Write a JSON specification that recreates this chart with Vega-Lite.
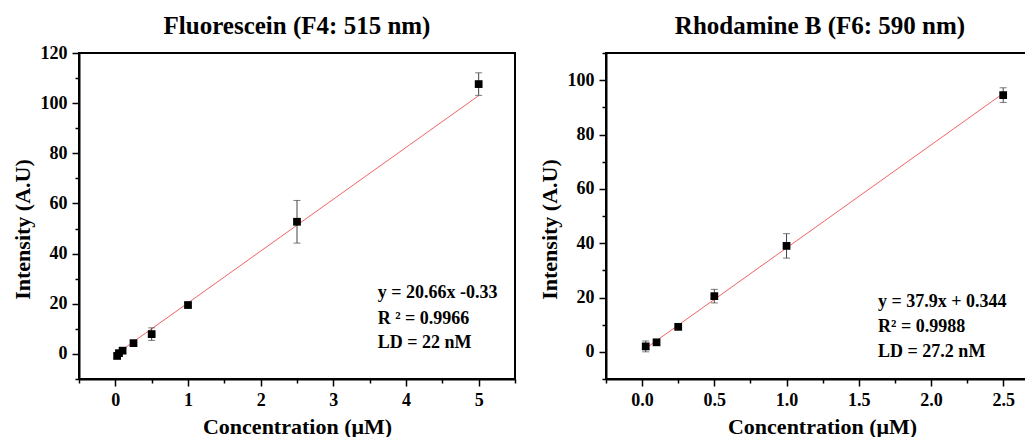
{
  "$schema": "https://vega.github.io/schema/vega-lite/v6.json",
  "padding": {"left": 10, "top": 13, "right": 0, "bottom": 0},
  "spacing": 20,
  "background": "white",
  "config": {
    "font": "Liberation Serif",
    "view": {"stroke": "black", "strokeWidth": 2},
    "axis": {
      "grid": false,
      "domainColor": "black",
      "domainWidth": 2,
      "tickColor": "black",
      "tickWidth": 1.5,
      "labelFont": "Liberation Serif",
      "labelFontWeight": "bold",
      "labelFontSize": 18,
      "labelColor": "black",
      "labelPadding": 5,
      "labelFlush": false,
      "labelOverlap": false,
      "titleFont": "Liberation Serif",
      "titleFontWeight": "bold",
      "titleFontSize": 22,
      "titleColor": "black"
    },
    "title": {"font": "Liberation Serif", "fontSize": 25, "fontWeight": "bold", "color": "black", "anchor": "middle"}
  },
  "datasets": {
    "fluo": [
      {"c": 0.025, "i": -0.8, "e": 1.0},
      {"c": 0.05, "i": 0.3, "e": 1.0},
      {"c": 0.1, "i": 1.3, "e": 1.0},
      {"c": 0.25, "i": 4.3, "e": 1.0},
      {"c": 0.5, "i": 7.9, "e": 2.5},
      {"c": 1.0, "i": 19.5, "e": 1.0},
      {"c": 2.5, "i": 52.7, "e": 8.5},
      {"c": 5.0, "i": 107.6, "e": 4.5}
    ],
    "fluo_fit": [
      {"c": 0.02, "i": 0.1},
      {"c": 5.0, "i": 103.0}
    ],
    "rhod": [
      {"c": 0.025, "i": 2.0, "e": 2.0},
      {"c": 0.1, "i": 3.5, "e": 1.0},
      {"c": 0.25, "i": 9.2, "e": 0.8},
      {"c": 0.5, "i": 20.5, "e": 2.5},
      {"c": 1.0, "i": 39.0, "e": 4.5},
      {"c": 2.5, "i": 94.5, "e": 2.7}
    ],
    "rhod_fit": [
      {"c": 0.015, "i": 0.9},
      {"c": 2.5, "i": 95.1}
    ]
  },
  "hconcat": [
    {
      "width": 436,
      "height": 326,
      "title": {"text": "Fluorescein (F4: 515 nm)", "offset": 5},
      "encoding": {
        "x": {
          "field": "c", "type": "quantitative",
          "scale": {"domain": [-0.5, 5.5], "nice": false, "zero": false},
          "axis": {
            "title": "Concentration (μM)",
            "values": [-0.5, 0, 0.5, 1, 1.5, 2, 2.5, 3, 3.5, 4, 4.5, 5, 5.5],
            "labelExpr": "datum.value % 1 == 0 ? '' + datum.value : ''",
            "tickSize": {"condition": {"test": "datum.value % 1 == 0", "value": 7}, "value": 4},
            "titlePadding": 7
          }
        },
        "y": {
          "field": "i", "type": "quantitative",
          "scale": {"domain": [-10, 120], "nice": false, "zero": false},
          "axis": {
            "title": "Intensity (A.U)",
            "values": [-10, 0, 10, 20, 30, 40, 50, 60, 70, 80, 90, 100, 110, 120],
            "labelExpr": "datum.value % 20 == 0 ? datum.label : ''",
            "tickSize": {"condition": {"test": "datum.value % 20 == 0", "value": 7}, "value": 4},
            "titlePadding": 6,
            "titleY": 176
          }
        }
      },
      "layer": [
        {"data": {"name": "fluo_fit"}, "mark": {"type": "line", "color": "#f06464", "strokeWidth": 1}},
        {
          "data": {"name": "fluo"},
          "mark": {"type": "errorbar", "color": "#444444", "thickness": 1, "ticks": {"size": 7, "thickness": 1, "color": "#444444"}},
          "encoding": {"yError": {"field": "e"}}
        },
        {"data": {"name": "fluo"}, "mark": {"type": "square", "size": 60, "color": "black", "opacity": 1, "filled": true}},
        {
          "data": {"name": "fluo"},
          "transform": [{"filter": "datum.c == 5"}],
          "mark": {"type": "text", "align": "left", "baseline": "middle", "fontSize": 18, "fontWeight": "bold", "color": "black", "font": "Liberation Serif"},
          "encoding": {"x": {"datum": 3.61}, "y": {"datum": 24.2}, "text": {"value": "y = 20.66x -0.33"}}
        },
        {
          "data": {"name": "fluo"},
          "transform": [{"filter": "datum.c == 5"}],
          "mark": {"type": "text", "align": "left", "baseline": "middle", "fontSize": 18, "fontWeight": "bold", "color": "black", "font": "Liberation Serif"},
          "encoding": {"x": {"datum": 3.61}, "y": {"datum": 13.8}, "text": {"value": "R ² = 0.9966"}}
        },
        {
          "data": {"name": "fluo"},
          "transform": [{"filter": "datum.c == 5"}],
          "mark": {"type": "text", "align": "left", "baseline": "middle", "fontSize": 18, "fontWeight": "bold", "color": "black", "font": "Liberation Serif"},
          "encoding": {"x": {"datum": 3.61}, "y": {"datum": 4.4}, "text": {"value": "LD = 22 nM"}}
        }
      ]
    },
    {
      "width": 420,
      "height": 326,
      "title": {"text": "Rhodamine B (F6: 590 nm)", "offset": 5, "dx": 4},
      "encoding": {
        "x": {
          "field": "c", "type": "quantitative",
          "scale": {"domain": [-0.25, 2.658], "nice": false, "zero": false},
          "axis": {
            "title": "Concentration (μM)",
            "format": ".1f",
            "values": [-0.25, 0, 0.25, 0.5, 0.75, 1, 1.25, 1.5, 1.75, 2, 2.25, 2.5],
            "labelExpr": "datum.value % 0.5 == 0 ? datum.label : ''",
            "tickSize": {"condition": {"test": "datum.value % 0.5 == 0", "value": 7}, "value": 4},
            "titlePadding": 7,
            "titleX": 216
          }
        },
        "y": {
          "field": "i", "type": "quantitative",
          "scale": {"domain": [-10, 110], "nice": false, "zero": false},
          "axis": {
            "title": "Intensity (A.U)",
            "values": [-10, 0, 10, 20, 30, 40, 50, 60, 70, 80, 90, 100, 110],
            "labelExpr": "datum.value % 20 == 0 ? datum.label : ''",
            "tickSize": {"condition": {"test": "datum.value % 20 == 0", "value": 7}, "value": 4},
            "titlePadding": 6,
            "titleY": 176
          }
        }
      },
      "layer": [
        {"data": {"name": "rhod_fit"}, "mark": {"type": "line", "color": "#f06464", "strokeWidth": 1}},
        {
          "data": {"name": "rhod"},
          "mark": {"type": "errorbar", "color": "#444444", "thickness": 1, "ticks": {"size": 7, "thickness": 1, "color": "#444444"}},
          "encoding": {"yError": {"field": "e"}}
        },
        {"data": {"name": "rhod"}, "mark": {"type": "square", "size": 60, "color": "black", "opacity": 1, "filled": true}},
        {
          "data": {"name": "rhod"},
          "transform": [{"filter": "datum.c == 2.5"}],
          "mark": {"type": "text", "align": "left", "baseline": "middle", "fontSize": 18, "fontWeight": "bold", "color": "black", "font": "Liberation Serif"},
          "encoding": {"x": {"datum": 1.634}, "y": {"datum": 18.4}, "text": {"value": "y = 37.9x + 0.344"}}
        },
        {
          "data": {"name": "rhod"},
          "transform": [{"filter": "datum.c == 2.5"}],
          "mark": {"type": "text", "align": "left", "baseline": "middle", "fontSize": 18, "fontWeight": "bold", "color": "black", "font": "Liberation Serif"},
          "encoding": {"x": {"datum": 1.634}, "y": {"datum": 9.1}, "text": {"value": "R² = 0.9988"}}
        },
        {
          "data": {"name": "rhod"},
          "transform": [{"filter": "datum.c == 2.5"}],
          "mark": {"type": "text", "align": "left", "baseline": "middle", "fontSize": 18, "fontWeight": "bold", "color": "black", "font": "Liberation Serif"},
          "encoding": {"x": {"datum": 1.634}, "y": {"datum": 0}, "text": {"value": "LD =  27.2 nM"}}
        }
      ]
    }
  ]
}
